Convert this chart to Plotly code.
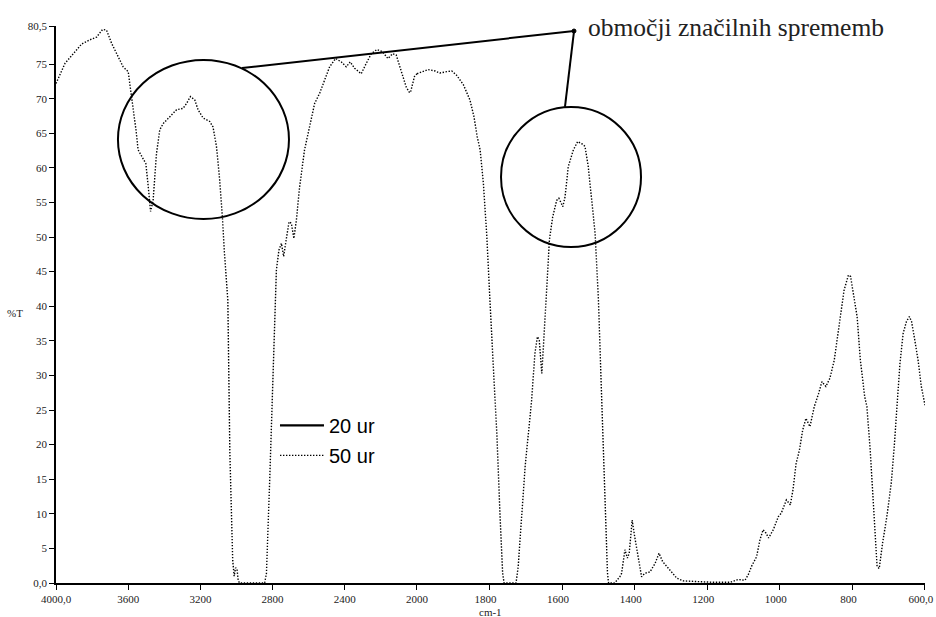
import plotly.graph_objects as go

# IR spectrum (%T vs wavenumber), sample after 50 hours
wavenumber = [
    4000, 3950, 3904, 3858, 3812, 3775, 3742, 3720, 3692, 3655, 3628, 3600, 3591, 3572,
    3557, 3545, 3526, 3502, 3489, 3476, 3462, 3443, 3425, 3406, 3369, 3332, 3296, 3277,
    3255, 3231, 3213, 3185, 3148, 3130, 3111, 3093, 3078, 3068, 3048, 3037, 3021, 3013,
    3005, 2997, 2990, 2982, 2844, 2834, 2816, 2807, 2798, 2788, 2779, 2765, 2751, 2739,
    2724, 2709, 2696, 2682, 2668, 2650, 2623, 2599, 2567, 2539, 2512, 2484, 2451, 2419,
    2392, 2370, 2346, 2309, 2281, 2253, 2222, 2192, 2161, 2134, 2115, 2087, 2060, 2042,
    2036, 2014, 2000, 1987, 1969, 1950, 1937, 1918, 1904, 1891, 1872, 1854, 1843, 1834,
    1826, 1817, 1808, 1799, 1790, 1780, 1771, 1764, 1760, 1727, 1721, 1711, 1702, 1693,
    1684, 1675, 1668, 1663, 1656, 1652, 1647, 1643, 1635, 1626, 1615, 1609, 1598, 1592,
    1583, 1569, 1557, 1546, 1537, 1528, 1519, 1509, 1500, 1491, 1482, 1475, 1472, 1455,
    1441, 1436, 1427, 1420, 1415, 1407, 1400, 1391, 1381, 1372, 1358, 1344, 1333, 1323,
    1312, 1298, 1284, 1266, 1229, 1183, 1137, 1124, 1115, 1096, 1087, 1078, 1064, 1055,
    1046, 1038, 1031, 1018, 1004, 996, 982, 971, 964, 955, 946, 937, 928, 917,
    905, 893, 884, 873, 862, 850, 841, 832, 823, 811, 805, 796, 787, 778,
    766, 760, 751, 741, 732, 726, 717, 705, 693, 684, 675, 669, 660, 651,
    643, 637, 628, 619, 610, 600,
]
transmittance_50h = [
    72.2, 75.1, 76.5, 77.9, 78.5, 78.9, 80.0, 79.9, 78.0, 76.1, 74.6, 73.9, 72.2, 68.8,
    65.5, 62.6, 61.8, 60.6, 57.3, 53.7, 55.3, 62.1, 65.5, 66.4, 67.4, 68.4, 68.6, 69.3,
    70.3, 69.8, 68.4, 67.2, 66.7, 65.9, 63.1, 58.2, 52.9, 48.1, 40.9, 19.2, 3.3, 1.0,
    2.2, 2.0, 0.3, 0.0, 0.0, 1.4, 14.9, 22.1, 31.7, 39.0, 45.2, 48.1, 49.1, 47.2,
    50.0, 52.2, 52.0, 49.8, 52.5, 57.3, 62.6, 65.5, 69.3, 70.8, 72.7, 74.6, 75.8, 75.3,
    74.6, 75.3, 74.4, 73.6, 75.1, 76.5, 77.1, 76.8, 75.8, 76.5, 76.3, 74.1, 71.7, 70.9,
    70.9, 73.2, 73.6, 73.9, 74.2, 74.0, 73.7, 73.9, 74.0, 73.4, 72.0, 69.8, 67.4, 64.5,
    62.6, 57.8, 50.5, 40.9, 31.3, 21.6, 9.6, 1.5, 0.0, 0.0, 2.4, 9.6, 16.8, 21.6,
    26.4, 33.2, 35.6, 35.1, 30.3, 33.7, 38.5, 43.3, 49.6, 52.9, 55.3, 55.6, 54.4, 55.8,
    60.2, 62.6, 63.8, 63.5, 63.1, 60.2, 55.3, 50.5, 40.9, 26.4, 12.0, 1.5, 0.0, 0.0,
    0.9, 1.4, 4.8, 3.6, 4.3, 9.1, 6.7, 3.8, 0.9, 1.4, 1.6, 2.8, 4.3, 3.1,
    2.4, 1.6, 0.7, 0.3, 0.2, 0.1, 0.1, 0.3, 0.5, 0.4, 1.2, 2.4, 3.8, 6.2,
    7.7, 7.2, 6.5, 7.7, 9.6, 10.1, 12.0, 11.3, 13.4, 17.3, 19.2, 22.1, 23.8, 22.6,
    25.5, 27.4, 29.1, 28.4, 29.6, 32.2, 35.6, 39.0, 42.3, 44.5, 44.3, 41.4, 38.5, 32.2,
    26.9, 25.5, 19.2, 10.5, 2.4, 2.1, 5.7, 9.6, 14.4, 20.2, 26.4, 31.7, 36.1, 37.8,
    38.5, 37.8, 35.1, 32.2, 28.4, 25.7,
]

# The wavenumber axis is split: 4000-2000 and 2000-600 (double scale)
ticks_high = [4000, 3600, 3200, 2800, 2400, 2000]
ticktext_high = ["4000,0", "3600", "3200", "2800", "2400", "2000"]
ticks_low = [1800, 1600, 1400, 1200, 1000, 800, 600]
ticktext_low = ["1800", "1600", "1400", "1200", "1000", "800", "600,0"]
ticks_t = [0, 5, 10, 15, 20, 25, 30, 35, 40, 45, 50, 55, 60, 65, 70, 75, 80.5]
ticktext_t = ["0,0", "5", "10", "15", "20", "25", "30", "35", "40", "45", "50",
              "55", "60", "65", "70", "75", "80,5"]

SPLIT = 2000
hi = [(w, t) for w, t in zip(wavenumber, transmittance_50h) if w >= SPLIT]
lo = [(w, t) for w, t in zip(wavenumber, transmittance_50h) if w <= SPLIT]

DOT = "1.4px,1.6px"
SERIF = "Liberation Serif"

fig = go.Figure()
fig.add_trace(go.Scatter(
    x=[None], y=[None], mode="lines", name="20 ur",
    line=dict(color="black", width=2.4),
    legendgroup="a", xaxis="x", yaxis="y",
))
fig.add_trace(go.Scatter(
    x=[p[0] for p in hi], y=[p[1] for p in hi], mode="lines", name="50 ur",
    line=dict(color="black", width=1.4, dash=DOT),
    legendgroup="b", xaxis="x", yaxis="y",
))
fig.add_trace(go.Scatter(
    x=[p[0] for p in lo], y=[p[1] for p in lo], mode="lines", name="50 ur",
    line=dict(color="black", width=1.4, dash=DOT),
    legendgroup="b", showlegend=False, xaxis="x2", yaxis="y",
))

split_frac = 0.4154
common_x = dict(
    showgrid=False, zeroline=False, showline=True, linecolor="black", linewidth=1.5,
    ticks="outside", ticklen=5, tickwidth=1, tickcolor="black",
    tickfont=dict(family=SERIF, size=11, color="#222"), tickmode="array",
    anchor="y", automargin=False, ticklabeloverflow="allow",
)
fig.update_layout(
    template="none",
    width=936, height=617,
    margin=dict(l=56, r=11, t=26, b=34),
    paper_bgcolor="white", plot_bgcolor="white",
    font=dict(family=SERIF),
    xaxis=dict(domain=[0, split_frac], range=[4000, 2000],
               tickvals=ticks_high, ticktext=ticktext_high, **common_x),
    xaxis2=dict(domain=[split_frac, 1], range=[2000, 599.9],
                tickvals=ticks_low, ticktext=ticktext_low, ticklabelshift=4,
                **common_x),
    yaxis=dict(range=[0, 80.5], showgrid=False, zeroline=False, showline=True,
               linecolor="black", linewidth=1.5, ticks="outside", ticklen=5,
               tickwidth=1, tickcolor="black", tickmode="array", automargin=False,
               tickvals=ticks_t, ticktext=ticktext_t,
               tickfont=dict(family=SERIF, size=11, color="#222")),
    showlegend=True,
    legend=dict(x=0.252, y=0.318, xanchor="left", yanchor="top",
                bgcolor="rgba(0,0,0,0)", traceorder="grouped", tracegroupgap=1,
                itemwidth=44,
                font=dict(family="Liberation Sans", size=20, color="black")),
)

# axis labels
fig.add_annotation(text="%T", xref="paper", yref="paper", x=-0.047, y=0.485,
                   xanchor="center", yanchor="middle", showarrow=False,
                   font=dict(family=SERIF, size=11, color="#222"))
fig.add_annotation(text="cm-1", xref="paper", yref="paper", x=0.5, y=-0.052,
                   xanchor="center", yanchor="middle", showarrow=False,
                   font=dict(family=SERIF, size=11, color="#222"))

# highlighted regions and their callout
fig.add_shape(type="circle", xref="paper", yref="paper",
              x0=0.0713, x1=0.2681, y0=0.6535, y1=0.939,
              line=dict(color="black", width=2))
fig.add_shape(type="circle", xref="paper", yref="paper",
              x0=0.5121, x1=0.6732, y0=0.6032, y1=0.8546,
              line=dict(color="black", width=2))
fig.add_shape(type="line", xref="paper", yref="paper",
              x0=0.2140, y0=0.9246, x1=0.5961, y1=0.9910,
              line=dict(color="black", width=2))
fig.add_shape(type="line", xref="paper", yref="paper",
              x0=0.5961, y0=0.9910, x1=0.5857, y1=0.8546,
              line=dict(color="black", width=2))
fig.add_shape(type="circle", xref="paper", yref="paper",
              x0=-2, y0=-2, x1=2, y1=2,
              xsizemode="pixel", ysizemode="pixel",
              xanchor=0.5961, yanchor=0.9910,
              line=dict(color="black", width=1), fillcolor="black")
fig.add_annotation(text="območji značilnih sprememb", xref="paper", yref="paper",
                   x=0.610, y=0.997, xanchor="left", yanchor="middle", showarrow=False,
                   font=dict(family=SERIF, size=25.5, color="#222"))

fig.write_html("out.html")
